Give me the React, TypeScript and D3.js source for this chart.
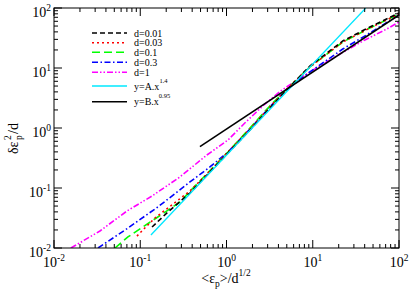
import React, { useEffect, useRef } from 'react';
import * as d3 from 'd3';

const W = 409, H = 295;
const margin = { top: 8, right: 10, bottom: 47, left: 54 };

// tick labels (decades)
const decades = [0.01, 0.1, 1, 10, 100];
const exponents = ['-2', '-1', '0', '1', '2'];

// d = 0.01
const x001 = [0.137, 0.209, 0.377, 0.642, 1.04, 1.87, 3.18, 4.75, 9.26, 22.3, 45.9, 100];
const y001 = [0.0224, 0.0398, 0.0825, 0.185, 0.383, 0.926, 2.15, 3.98, 10.8, 28.2, 48.2, 82.5];
// d = 0.03
const x003 = [0.0916, 0.116, 0.148, 0.209, 0.377, 0.642, 1.04, 1.87, 3.18, 4.75, 9.26, 22.3, 45.9, 100];
const y003 = [0.0158, 0.0224, 0.0316, 0.0464, 0.0891, 0.192, 0.398, 0.962, 2.24, 4.14, 10.4, 27.1, 46.4, 79.4];
// d = 0.1
const x01 = [0.0509, 0.072, 0.16, 0.288, 0.492, 1.04, 1.87, 3.18, 4.75, 9.26, 22.3, 45.9, 100];
const y01 = [0.01, 0.0153, 0.0329, 0.0584, 0.131, 0.398, 1.0, 2.33, 4.14, 10.4, 27.1, 46.4, 79.4];
// d = 0.3
const x03 = [0.0324, 0.072, 0.16, 0.377, 0.642, 1.04, 1.87, 3.18, 4.75, 9.26, 22.3, 45.9, 100];
const y03 = [0.01, 0.0215, 0.0483, 0.126, 0.224, 0.398, 0.962, 2.24, 4.14, 8.58, 20.7, 38.3, 76.4];
// d = 1
const x1 = [0.0157, 0.0341, 0.0702, 0.137, 0.288, 0.593, 1.04, 1.63, 2.79, 4.39, 9.26, 20.6, 40.2, 72.3, 100];
const y1 = [0.01, 0.0192, 0.0414, 0.0736, 0.1525, 0.355, 0.631, 1.21, 2.51, 4.3, 8.58, 17.1, 29.3, 44.7, 58.5];

// fits y=A.x^1.4 and y=B.x^0.95 (end points)
const fitAX = [0.133, 41.2];
const fitAY = [0.0165, 100];
const fitBX = [0.492, 100];
const fitBY = [0.488, 76.4];

const seriesNames = ['d=0.01', 'd=0.03', 'd=0.1', 'd=0.3', 'd=1'];
const seriesColors = ['#000000', '#ff0000', '#00ff00', '#0000ff', '#ff00ff'];
const seriesDash = ['5,3', '2,3', '8,4', '6,2.5,1.5,2.5', '6,2,1.5,2,1.5,2'];

const FONT = '"Liberation Serif", "Times New Roman", serif';

export default function App() {
  const ref = useRef<SVGSVGElement>(null);

  useEffect(() => {
    const svg = d3.select(ref.current);
    svg.selectAll('*').remove();

    const x = d3.scaleLog().domain([0.01, 100]).range([margin.left, W - margin.right]);
    const y = d3.scaleLog().domain([0.01, 100]).range([H - margin.bottom, margin.top]);
    const [x0, x1p] = x.range();
    const [y0, y1p] = y.range();

    svg.append('defs').append('clipPath').attr('id', 'plotclip')
      .append('rect').attr('x', x0).attr('y', y1p).attr('width', x1p - x0).attr('height', y0 - y1p);

    const plot = svg.append('g').attr('clip-path', 'url(#plotclip)');
    const line = d3.line<[number, number]>().x(d => x(d[0])).y(d => y(d[1]));
    const zip = (a: number[], b: number[]) => a.map((v, i) => [v, b[i]] as [number, number]);

    const series = [zip(x001, y001), zip(x003, y003), zip(x01, y01), zip(x03, y03), zip(x1, y1)];

    // draw d=1 first so the bundle stays on top
    [4, 3, 2, 1, 0].forEach(i => {
      plot.append('path')
        .attr('d', line(series[i]))
        .attr('fill', 'none')
        .attr('stroke', seriesColors[i])
        .attr('stroke-width', 1.6)
        .attr('stroke-dasharray', seriesDash[i]);
    });

    plot.append('path').attr('d', line(zip(fitAX, fitAY)))
      .attr('fill', 'none').attr('stroke', '#00e8ff').attr('stroke-width', 1.3);
    plot.append('path').attr('d', line(zip(fitBX, fitBY)))
      .attr('fill', 'none').attr('stroke', '#000').attr('stroke-width', 1.6);

    // frame
    svg.append('rect').attr('x', x0).attr('y', y1p).attr('width', x1p - x0).attr('height', y0 - y1p)
      .attr('fill', 'none').attr('stroke', '#000').attr('stroke-width', 1);

    // ticks on all four sides, pointing in
    const minor: number[] = [];
    decades.slice(0, -1).forEach(dv => { for (let k = 2; k <= 9; k++) minor.push(dv * k); });
    const tk = svg.append('g').attr('stroke', '#000').attr('stroke-width', 1);
    const tickSet = (vals: number[], len: number) => {
      vals.forEach(v => {
        const px = x(v), py = y(v);
        tk.append('line').attr('x1', px).attr('x2', px).attr('y1', y0).attr('y2', y0 - len);
        tk.append('line').attr('x1', px).attr('x2', px).attr('y1', y1p).attr('y2', y1p + len);
        tk.append('line').attr('y1', py).attr('y2', py).attr('x1', x0).attr('x2', x0 + len);
        tk.append('line').attr('y1', py).attr('y2', py).attr('x1', x1p).attr('x2', x1p - len);
      });
    };
    tickSet(decades, 8);
    tickSet(minor, 4);

    // tick labels
    decades.forEach((v, i) => {
      const tx = svg.append('text').attr('x', x(v)).attr('y', y0 + 18.5)
        .attr('text-anchor', 'middle').style('font-family', FONT).style('font-size', '14px');
      tx.append('tspan').text('10');
      tx.append('tspan').attr('dy', -6).style('font-size', '9.5px').text(exponents[i]);

      const ty = svg.append('text').attr('x', x0 - 3).attr('y', y(v) + 9)
        .attr('text-anchor', 'end').style('font-family', FONT).style('font-size', '14px');
      ty.append('tspan').text('10');
      ty.append('tspan').attr('dy', -6).style('font-size', '9.5px').text(exponents[i]);
    });

    // x axis title
    const xt = svg.append('text').attr('x', 226).attr('y', 283)
      .attr('text-anchor', 'middle').style('font-family', FONT).style('font-size', '14px');
    xt.append('tspan').text('<ε');
    xt.append('tspan').attr('dy', 4).style('font-size', '9.5px').text('p');
    xt.append('tspan').attr('dy', -4).text('>/d');
    xt.append('tspan').attr('dy', -7).style('font-size', '9.5px').text('1/2');

    // y axis title
    const yt = svg.append('g').attr('transform', 'translate(18,132) rotate(-90)')
      .style('font-family', FONT).style('font-size', '14px');
    yt.append('text').attr('x', -22).attr('y', 0).text('δε');
    yt.append('text').attr('x', -8).attr('y', -7).style('font-size', '9.5px').text('2');
    yt.append('text').attr('x', -8).attr('y', 4).style('font-size', '9.5px').text('p');
    yt.append('text').attr('x', -2).attr('y', 0).text('/d');

    // legend
    const lg = svg.append('g').style('font-family', FONT).style('font-size', '10px');
    const rows = [33, 42.7, 52.3, 62.3, 72.3];
    seriesNames.forEach((name, i) => {
      lg.append('line').attr('x1', 92).attr('x2', 127).attr('y1', rows[i]).attr('y2', rows[i])
        .attr('stroke', seriesColors[i]).attr('stroke-width', 1.6).attr('stroke-dasharray', seriesDash[i]);
      lg.append('text').attr('x', 134).attr('y', rows[i] + 3.5).text(name);
    });
    lg.append('line').attr('x1', 92).attr('x2', 127).attr('y1', 86).attr('y2', 86)
      .attr('stroke', '#00e8ff').attr('stroke-width', 1.3);
    const la = lg.append('text').attr('x', 134).attr('y', 89.5);
    la.append('tspan').text('y=A.x');
    la.append('tspan').attr('dy', -7).style('font-size', '6.5px').text('1.4');
    lg.append('line').attr('x1', 92).attr('x2', 127).attr('y1', 101.7).attr('y2', 101.7)
      .attr('stroke', '#000').attr('stroke-width', 1.6);
    const lb = lg.append('text').attr('x', 134).attr('y', 105.2);
    lb.append('tspan').text('y=B.x');
    lb.append('tspan').attr('dy', -7).style('font-size', '6.5px').text('0.95');
  }, []);

  return (
    <svg ref={ref} width={W} height={H}
      style={{ position: 'absolute', left: 0, top: 0, background: '#fff' }} />
  );
}
